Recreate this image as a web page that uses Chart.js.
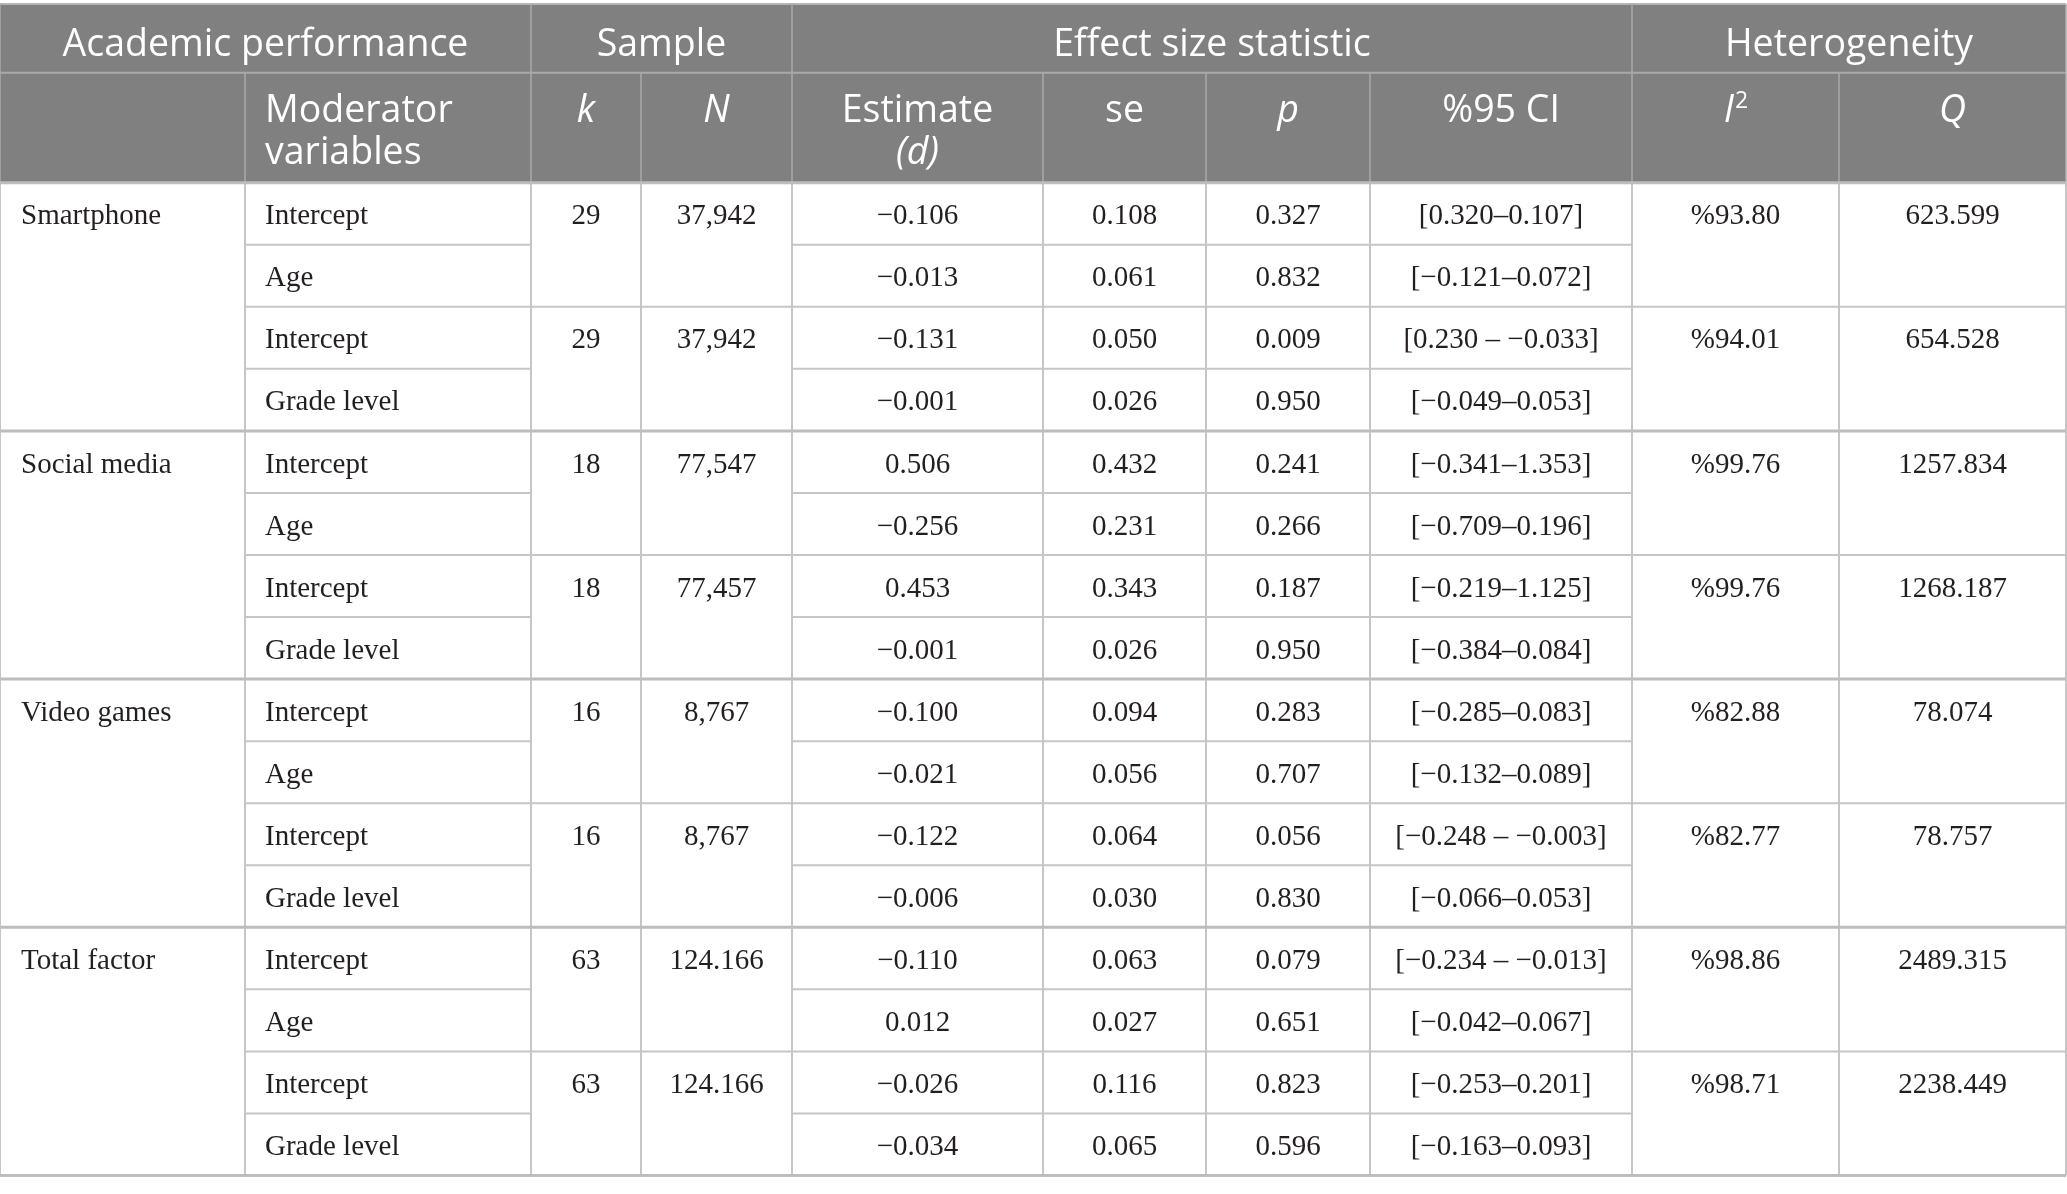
<!DOCTYPE html>
<html>
<head>
<meta charset="utf-8">
<script src="https://cdn.jsdelivr.net/npm/chart.js@4/dist/chart.umd.min.js"></script>
<style>
html,body{margin:0;padding:0;background:#fff;}
#wrap{width:2067px;height:1194px;position:relative;}
</style>
</head>
<body>
<div id="wrap"><canvas id="c"></canvas></div>
<script>
// ---- data ----
const categories = ['Smartphone', 'Social media', 'Video games', 'Total factor'];
const moderators = ['Intercept','Age','Intercept','Grade level','Intercept','Age','Intercept','Grade level',
                    'Intercept','Age','Intercept','Grade level','Intercept','Age','Intercept','Grade level'];
const kValues = ['29','29','18','18','16','16','63','63'];
const nValues = ['37,942','37,942','77,547','77,457','8,767','8,767','124.166','124.166'];
const estimates = ['\u22120.106','\u22120.013','\u22120.131','\u22120.001','0.506','\u22120.256','0.453','\u22120.001',
                   '\u22120.100','\u22120.021','\u22120.122','\u22120.006','\u22120.110','0.012','\u22120.026','\u22120.034'];
const seValues = ['0.108','0.061','0.050','0.026','0.432','0.231','0.343','0.026',
                  '0.094','0.056','0.064','0.030','0.063','0.027','0.116','0.065'];
const pValues = ['0.327','0.832','0.009','0.950','0.241','0.266','0.187','0.950',
                 '0.283','0.707','0.056','0.830','0.079','0.651','0.823','0.596'];
const ciValues = ['[0.320\u20130.107]','[\u22120.121\u20130.072]','[0.230 \u2013 \u22120.033]','[\u22120.049\u20130.053]',
                  '[\u22120.341\u20131.353]','[\u22120.709\u20130.196]','[\u22120.219\u20131.125]','[\u22120.384\u20130.084]',
                  '[\u22120.285\u20130.083]','[\u22120.132\u20130.089]','[\u22120.248 \u2013 \u22120.003]','[\u22120.066\u20130.053]',
                  '[\u22120.234 \u2013 \u22120.013]','[\u22120.042\u20130.067]','[\u22120.253\u20130.201]','[\u22120.163\u20130.093]'];
const i2Values = ['%93.80','%94.01','%99.76','%99.76','%82.88','%82.77','%98.86','%98.71'];
const qValues = ['623.599','654.528','1257.834','1268.187','78.074','78.757','2489.315','2238.449'];
const groupHeaders = ['Academic performance', 'Sample', 'Effect size statistic', 'Heterogeneity'];

// ---- layout (table geometry in scale units) ----
const colEdges = [0, 245, 531, 641, 792, 1043, 1206, 1370, 1632, 1839, 2066];
const groupSpans = [[0, 2], [2, 4], [4, 8], [8, 10]];
const tableTop = 4;
const headerRowHeights = [68.7, 110];
const dataRowHeight = 62.05;

const HEADER_FONT = '"Open Sans", "Noto Sans", sans-serif';
const BODY_FONT = '"Liberation Serif", "DejaVu Serif", serif';
const HS = '37.5px ';
const BS = '29px ';

const tablePlugin = {
  id: 'tableDraw',
  beforeDraw(chart) {
    const ctx = chart.ctx;
    const sx = chart.scales.x, sy = chart.scales.y;
    const X = v => sx.getPixelForValue(v);
    const Y = v => sy.getPixelForValue(v);
    const xs = colEdges.map(X);
    const h1 = tableTop + headerRowHeights[0];
    const h2 = h1 + headerRowHeights[1];
    const nRows = moderators.length;
    const rowY = i => Y(h2 + i * dataRowHeight);
    const rowC = i => Y(h2 + (i + 0.5) * dataRowHeight + 3);
    const colC = j => (xs[j] + xs[j + 1]) / 2;

    ctx.save();
    ctx.fillStyle = '#ffffff';
    ctx.fillRect(0, 0, chart.width, chart.height);

    // header background
    ctx.fillStyle = '#7f807f';
    ctx.fillRect(xs[0], Y(tableTop), xs[10] - xs[0], Y(h2) - Y(tableTop));

    const line = (x1, y1, x2, y2, color, w) => {
      ctx.strokeStyle = color; ctx.lineWidth = w;
      ctx.beginPath(); ctx.moveTo(x1, y1); ctx.lineTo(x2, y2); ctx.stroke();
    };

    // header lines
    const hc = '#a9aaa9';
    line(xs[0], Y(tableTop), xs[10], Y(tableTop), '#b5b5b5', 2);
    line(xs[0], Y(h1), xs[10], Y(h1), hc, 2);
    [0, 2, 4, 8, 10].forEach(j => line(xs[j], Y(tableTop), xs[j], Y(h1), hc, 1.5));
    for (let j = 0; j <= 10; j++) line(xs[j], Y(h1), xs[j], Y(h2), hc, 1.5);

    // data grid
    const gc = '#c6c6c6';
    for (let j = 0; j <= 10; j++) line(xs[j], Y(h2), xs[j], rowY(nRows), gc, 2);
    for (let c = 0; c < categories.length; c++) {
      const r0 = c * 4;
      [r0 + 1, r0 + 3].forEach(r => {
        line(xs[1], rowY(r), xs[2], rowY(r), gc, 2);
        line(xs[4], rowY(r), xs[8], rowY(r), gc, 2);
      });
      line(xs[1], rowY(r0 + 2), xs[10], rowY(r0 + 2), gc, 2);
    }
    for (let c = 0; c <= categories.length; c++) {
      line(xs[0], rowY(c * 4), xs[10], rowY(c * 4), '#bdbdbd', 3);
    }

    // header text
    ctx.fillStyle = '#ffffff';
    ctx.textBaseline = 'middle';
    ctx.textAlign = 'center';
    ctx.font = HS + HEADER_FONT;
    const h1c = Y(tableTop + 41);
    groupSpans.forEach((s, i) => ctx.fillText(groupHeaders[i], (xs[s[0]] + xs[s[1]]) / 2, h1c));

    const l1 = Y(h1 + 39), l2 = Y(h1 + 81);
    ctx.textAlign = 'left';
    ctx.fillText('Moderator', xs[1] + 20, l1);
    ctx.fillText('variables', xs[1] + 20, l2);
    ctx.textAlign = 'center';
    ctx.font = 'italic ' + HS + HEADER_FONT;
    ctx.fillText('k', colC(2), l1);
    ctx.fillText('N', colC(3), l1);
    ctx.fillText('p', colC(6), l1);
    ctx.fillText('Q', colC(9), l1);
    ctx.fillText('(d)', colC(4), l2);
    ctx.font = HS + HEADER_FONT;
    ctx.fillText('Estimate', colC(4), l1);
    ctx.fillText('se', colC(5), l1);
    ctx.fillText('%95 CI', colC(7), l1);
    // I^2
    ctx.font = 'italic ' + HS + HEADER_FONT;
    const iw = ctx.measureText('I').width;
    ctx.font = '23px ' + HEADER_FONT;
    const sw = ctx.measureText('2').width;
    const ix = colC(8) - (iw + sw) / 2;
    ctx.textAlign = 'left';
    ctx.font = 'italic ' + HS + HEADER_FONT;
    ctx.fillText('I', ix, l1);
    ctx.font = '23px ' + HEADER_FONT;
    ctx.fillText('2', ix + iw + 1, l1 - 10);

    // body text
    ctx.fillStyle = '#231f20';
    ctx.font = BS + BODY_FONT;
    ctx.textBaseline = 'middle';
    ctx.textAlign = 'left';
    categories.forEach((c, i) => ctx.fillText(c, xs[0] + 21, rowC(i * 4)));
    moderators.forEach((m, i) => ctx.fillText(m, xs[1] + 20, rowC(i)));
    ctx.textAlign = 'center';
    kValues.forEach((v, m) => ctx.fillText(v, colC(2), rowC(m * 2)));
    nValues.forEach((v, m) => ctx.fillText(v, colC(3), rowC(m * 2)));
    estimates.forEach((v, i) => ctx.fillText(v, colC(4), rowC(i)));
    seValues.forEach((v, i) => ctx.fillText(v, colC(5), rowC(i)));
    pValues.forEach((v, i) => ctx.fillText(v, colC(6), rowC(i)));
    ciValues.forEach((v, i) => ctx.fillText(v, colC(7), rowC(i)));
    i2Values.forEach((v, m) => ctx.fillText(v, colC(8), rowC(m * 2)));
    qValues.forEach((v, m) => ctx.fillText(v, colC(9), rowC(m * 2)));
    ctx.restore();
  }
};

function build() {
  new Chart(document.getElementById('c'), {
    type: 'scatter',
    data: { datasets: [{ data: [] }] },
    options: {
      responsive: true,
      maintainAspectRatio: false,
      animation: false,
      events: [],
      layout: { padding: 0 },
      plugins: { legend: { display: false }, tooltip: { enabled: false } },
      scales: {
        x: { type: 'linear', min: 0, max: 2067, display: false },
        y: { type: 'linear', min: 0, max: 1194, reverse: true, display: false }
      }
    },
    plugins: [tablePlugin]
  });
}
Promise.all([
  document.fonts.load('37.5px "Open Sans"'),
  document.fonts.load('italic 37.5px "Open Sans"'),
  document.fonts.load('29px "Liberation Serif"')
]).then(build, build);
</script>
</body>
</html>
